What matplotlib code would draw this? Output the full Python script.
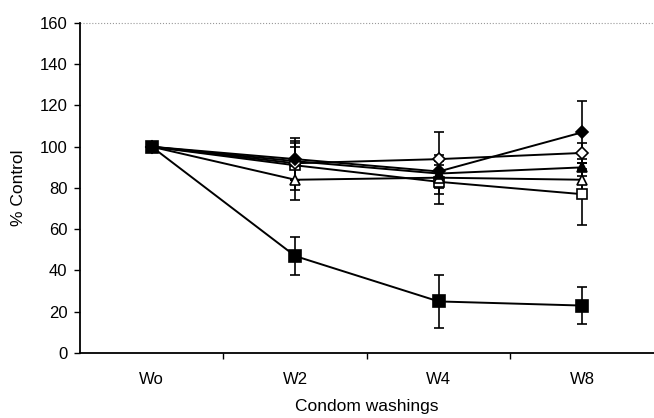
import matplotlib
matplotlib.use("Agg")
from matplotlib import pyplot as plt
import numpy as np

# data
categories = ["Wo", "W2", "W4", "W8"]

ctrl_sq = [100, 47, 25, 23]
ctrl_sq_err = [0, 9, 13, 9]

fill_diam = [100, 94, 88, 107]
fill_diam_err = [0, 10, 8, 15]

open_diam = [100, 92, 94, 97]
open_diam_err = [0, 8, 13, 5]

fill_tri = [100, 93, 87, 90]
fill_tri_err = [0, 9, 4, 4]

open_tri = [100, 84, 85, 84]
open_tri_err = [0, 10, 8, 5]

open_sq = [100, 91, 83, 77]
open_sq_err = [0, 12, 11, 15]

yticks = [0, 20, 40, 60, 80, 100, 120, 140, 160]

plt.rcParams['font.family'] = ['Liberation Sans', 'DejaVu Sans']

fig = plt.figure(figsize=(6.54, 4.18), dpi=100)
ax = fig.add_axes([0.1223, 0.1555, 0.8777, 0.7895])

x = np.arange(len(categories))

series = [
    (open_sq, open_sq_err, 's', 'white', 7),
    (open_tri, open_tri_err, '^', 'white', 7),
    (fill_tri, fill_tri_err, '^', 'black', 7),
    (open_diam, open_diam_err, 'D', 'white', 6),
    (fill_diam, fill_diam_err, 'D', 'black', 6),
    (ctrl_sq, ctrl_sq_err, 's', 'black', 8.5),
]
for vals, errs, mk, fc, ms in series:
    ax.errorbar(x, vals, yerr=errs, color='black', lw=1.4, marker=mk,
                markerfacecolor=fc, markeredgecolor='black', markersize=ms,
                markeredgewidth=1.2, elinewidth=1.2, capsize=3.5, capthick=1.2)

ax.set_xlim(-0.5, 3.5)
ax.set_ylim(0, 160)
ax.set_yticks(yticks)
ax.set_xticks(x)
ax.set_xticklabels(categories, fontsize=12)
ax.set_xticks(np.arange(0.5, 3.5, 1.0), minor=True)
ax.tick_params(axis='x', which='major', length=0, pad=14)
ax.tick_params(axis='x', which='minor', length=4, width=1, direction='out')
ax.tick_params(axis='y', length=4, width=1, direction='out', labelsize=12, pad=5)

ax.spines['right'].set_visible(False)
ax.spines['top'].set_visible(False)
ax.spines['left'].set_linewidth(1.3)
ax.spines['bottom'].set_linewidth(1.3)
ax.axhline(160, color='#999999', lw=0.8, ls=':', clip_on=False)

ax.set_ylabel("% Control", fontsize=12.5, labelpad=10)
ax.set_xlabel("Condom washings", fontsize=12.5, labelpad=8)

fig.savefig("out.png", dpi=100)
